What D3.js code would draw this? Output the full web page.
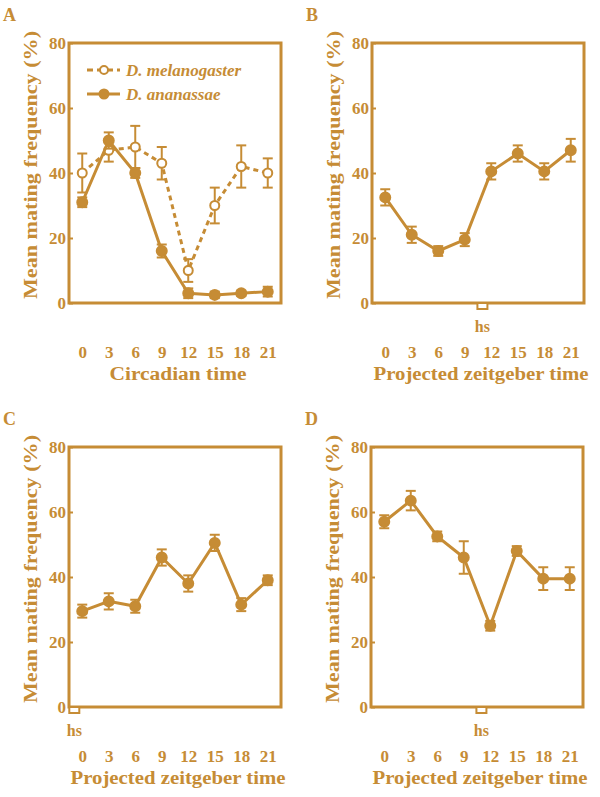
<!DOCTYPE html>
<html>
<head>
<meta charset="utf-8">
<script src="https://cdn.jsdelivr.net/npm/d3@7"></script>
<style>
  body { margin: 0; background: #fff; }
  text { font-family: "Liberation Serif", "DejaVu Serif", serif; font-weight: bold; }
</style>
</head>
<body>
<div id="chart"></div>
<script>
// dati
var times = [0, 3, 6, 9, 12, 15, 18, 21];
var yTicks = [0, 20, 40, 60, 80];

var melMean = [40, 47, 48, 43, 10, 30, 42, 40];
var melErr  = [6, 3.5, 6.5, 5, 3.5, 5.5, 6.5, 4.5];
var anaMean = [31, 50, 40, 16, 3, 2.5, 3, 3.5];
var anaErr  = [1.5, 2.5, 1.5, 2, 1.5, 1, 0.8, 1.5];

var bMean = [32.5, 21, 16, 19.5, 40.5, 46, 40.5, 47];
var bErr  = [2.5, 2.5, 1.5, 2, 2.5, 2.5, 2.5, 3.5];
var cMean = [29.5, 32.5, 31, 46, 38, 50.5, 31.5, 39];
var cErr  = [2, 2.5, 2, 2.5, 2.5, 2.5, 2, 1.5];
var dMean = [57, 63.5, 52.5, 46, 25, 48, 39.5, 39.5];
var dErr  = [2, 3, 1.5, 5, 1.5, 1.5, 3.5, 3.5];

var color = "#c68c35";
var pw = 212, ph = 260;

var svg = d3.select("#chart").append("svg")
            .attr("width", 600)
            .attr("height", 797);

var panels = [
    {letter: "A", left: 69,  top: 43,  xTitle: "Circadian time", xTitleLen: 137, hs: null,
     series: [{mean: melMean, err: melErr, open: true}, {mean: anaMean, err: anaErr, open: false}]},
    {letter: "B", left: 372, top: 43,  xTitle: "Projected zeitgeber time", xTitleLen: 215, hs: 11,
     series: [{mean: bMean, err: bErr, open: false}]},
    {letter: "C", left: 69,  top: 447, xTitle: "Projected zeitgeber time", xTitleLen: 215, hs: -0.9,
     series: [{mean: cMean, err: cErr, open: false}]},
    {letter: "D", left: 371, top: 447, xTitle: "Projected zeitgeber time", xTitleLen: 215, hs: 11,
     series: [{mean: dMean, err: dErr, open: false}]}
];

panels.forEach(function(p) {
    var g = svg.append("g").attr("transform", `translate(${p.left},${p.top})`);
    var x = d3.scaleLinear().domain([-1.5, 22.5]).range([0, pw]);
    var y = d3.scaleLinear().domain([0, 80]).range([ph, 0]);

    // lettera del pannello
    svg.append("text")
       .attr("x", p.left - 66)
       .attr("y", p.top - 22)
       .attr("fill", color)
       .style("font-size", "18px")
       .text(p.letter);

    // asse y con tacche interne
    var yAxis = g.append("g")
                 .call(d3.axisLeft(y).tickValues(yTicks).tickSize(-4).tickPadding(3));
    yAxis.select(".domain").remove();
    yAxis.selectAll("line").attr("stroke", color).attr("stroke-width", 2);
    yAxis.selectAll("text")
         .attr("fill", color)
         .style("font-size", "17px")
         .style("font-family", "'Liberation Serif', serif")
         .style("font-weight", "bold")
         .attr("dy", "0.35em");

    // cornice
    g.append("rect")
     .attr("width", pw)
     .attr("height", ph)
     .attr("fill", "none")
     .attr("stroke", color)
     .attr("stroke-width", 3);

    // etichette asse x (staccate sotto la cornice)
    var xAxis = g.append("g")
                 .attr("transform", `translate(0,${ph + 40})`)
                 .call(d3.axisBottom(x).tickValues(times).tickSize(0).tickPadding(0));
    xAxis.select(".domain").remove();
    xAxis.selectAll("text")
         .attr("fill", color)
         .style("font-size", "17px")
         .style("font-family", "'Liberation Serif', serif")
         .style("font-weight", "bold")
         .attr("dy", "0.9em");

    // titolo asse x
    g.append("text")
     .attr("x", pw / 2 + 3)
     .attr("y", ph + 77)
     .attr("text-anchor", "middle")
     .attr("fill", color)
     .attr("textLength", p.xTitleLen)
     .attr("lengthAdjust", "spacingAndGlyphs")
     .style("font-size", "18px")
     .text(p.xTitle);

    // titolo asse y
    g.append("text")
     .attr("transform", `translate(-32,${ph / 2 - 8}) rotate(-90)`)
     .attr("text-anchor", "middle")
     .attr("fill", color)
     .attr("textLength", 268)
     .attr("lengthAdjust", "spacingAndGlyphs")
     .style("font-size", "18px")
     .text("Mean mating frequency (%)");

    // marcatore heat shock
    if (p.hs !== null) {
        g.append("rect")
         .attr("x", x(p.hs) - 5)
         .attr("y", ph)
         .attr("width", 10)
         .attr("height", 6)
         .attr("fill", "#fff")
         .attr("stroke", color)
         .attr("stroke-width", 2);
        g.append("text")
         .attr("x", x(p.hs))
         .attr("y", ph + 29)
         .attr("text-anchor", "middle")
         .attr("fill", color)
         .style("font-size", "16px")
         .text("hs");
    }

    p.series.forEach(function(s) {
        var pts = times.map((t, i) => ({t: t, m: s.mean[i], e: s.err[i]}));
        var line = d3.line().x(d => x(d.t)).y(d => y(d.m));

        g.append("path")
         .datum(pts)
         .attr("d", line)
         .attr("fill", "none")
         .attr("stroke", color)
         .attr("stroke-width", 3)
         .attr("stroke-dasharray", s.open ? "5,4" : null);

        var eb = g.append("g").attr("stroke", color).attr("stroke-width", 2);
        eb.selectAll("line.v")
          .data(pts).enter().append("line")
          .attr("x1", d => x(d.t)).attr("x2", d => x(d.t))
          .attr("y1", d => y(d.m + d.e)).attr("y2", d => y(d.m - d.e));
        eb.selectAll("line.top")
          .data(pts).enter().append("line")
          .attr("x1", d => x(d.t) - 5).attr("x2", d => x(d.t) + 5)
          .attr("y1", d => y(d.m + d.e)).attr("y2", d => y(d.m + d.e));
        eb.selectAll("line.bot")
          .data(pts).enter().append("line")
          .attr("x1", d => x(d.t) - 5).attr("x2", d => x(d.t) + 5)
          .attr("y1", d => y(d.m - d.e)).attr("y2", d => y(d.m - d.e));

        g.append("g").selectAll("circle")
         .data(pts).enter().append("circle")
         .attr("cx", d => x(d.t))
         .attr("cy", d => y(d.m))
         .attr("r", s.open ? 4.5 : 5)
         .attr("fill", s.open ? "#fff" : color)
         .attr("stroke", color)
         .attr("stroke-width", 2);
    });

    // legenda solo nel pannello A
    if (p.letter == "A") {
        var leg = [{name: "D. melanogaster", open: true, y: 27}, {name: "D. ananassae", open: false, y: 51}];
        leg.forEach(function(l) {
            g.append("line")
             .attr("x1", 18).attr("x2", 51)
             .attr("y1", l.y).attr("y2", l.y)
             .attr("stroke", color)
             .attr("stroke-width", 3)
             .attr("stroke-dasharray", l.open ? "6,4" : null);
            g.append("circle")
             .attr("cx", 35).attr("cy", l.y)
             .attr("r", l.open ? 4 : 4.5)
             .attr("fill", l.open ? "#fff" : color)
             .attr("stroke", color)
             .attr("stroke-width", 2);
            g.append("text")
             .attr("x", 57)
             .attr("y", l.y + 6)
             .attr("fill", color)
             .style("font-size", "17px")
             .style("font-style", "italic")
             .text(l.name);
        });
    }
});
</script>
</body>
</html>
